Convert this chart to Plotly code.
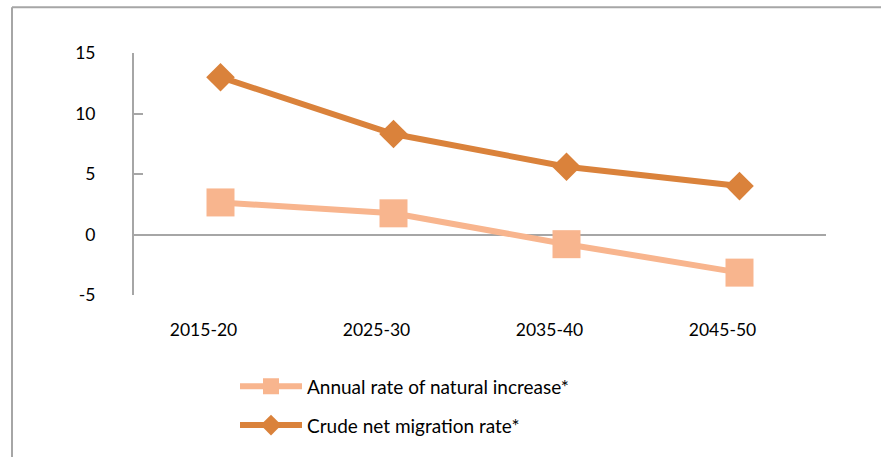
import plotly.graph_objects as go

periods = ["2015-20", "2025-30", "2035-40", "2045-50"]
natural_increase = [2.65, 1.75, -0.8, -3.15]
net_migration = [13.0, 8.3, 5.6, 4.0]
y_ticks = [-5, 0, 5, 10, 15]
y_tick_text = ["-5", "0", "5", "10", "15"]

FONT = "Lato"
GRAY = "#A6A6A6"
LIGHT = "#F8B58E"
DARK = "#DA823B"

fig = go.Figure()
fig.add_trace(go.Scatter(
    x=periods, y=natural_increase, mode="lines+markers",
    name="Annual rate of natural increase*",
    line={"color": LIGHT, "width": 6},
    marker={"symbol": "square", "size": 28, "color": LIGHT},
    legend="legend", showlegend=True,
))
fig.add_trace(go.Scatter(
    x=periods, y=net_migration, mode="lines+markers",
    name="Crude net migration rate*",
    line={"color": DARK, "width": 6},
    marker={"symbol": "diamond", "size": 22, "color": DARK},
    legend="legend2", showlegend=True,
))

# plot area in page pixels
left, right = 134, 826
top, bottom = 53, 302
pw, ph = right - left, bottom - top


def px(x):
    return (x - left) / pw


def py(y):
    return (bottom - y) / ph


legend_common = {
    "font": {"family": FONT, "size": 19, "color": "#000000"},
    "bgcolor": "rgba(0,0,0,0)",
    "itemwidth": 62,
    "xanchor": "left",
    "yanchor": "middle",
    "itemclick": False,
    "visible": True,
}

fig.update_layout(
    width=881, height=457,
    showlegend=True,
    margin={"l": left, "r": 881 - right, "t": top, "b": 457 - bottom},
    paper_bgcolor="white", plot_bgcolor="white",
    font={"family": FONT, "size": 17, "color": "#000000"},
    legend={**legend_common, "x": px(235), "y": py(396)},
    legend2={**legend_common, "x": px(235), "y": py(436)},
    xaxis={
        "type": "category", "range": [-0.5, 3.5],
        "showgrid": False, "showline": False, "zeroline": False,
        "ticks": "", "ticklabelstandoff": 22, "ticklabelshift": -17,
        "tickfont": {"family": FONT, "size": 17.5},
    },
    yaxis={
        "range": [-5, 15], "tickvals": y_ticks, "ticktext": y_tick_text,
        "showgrid": False, "showline": True, "linecolor": GRAY, "linewidth": 2,
        "zeroline": True, "zerolinecolor": GRAY, "zerolinewidth": 2,
        "ticks": "inside", "ticklen": 9, "tickcolor": GRAY, "tickwidth": 1.5,
        "ticklabelstandoff": 33,
        "tickfont": {"family": FONT, "size": 17.5},
    },
    shapes=[
        {"type": "line", "xref": "paper", "yref": "paper",
         "x0": px(12), "x1": px(881), "y0": py(6), "y1": py(6),
         "line": {"color": GRAY, "width": 2}},
        {"type": "line", "xref": "paper", "yref": "paper",
         "x0": px(12), "x1": px(12), "y0": py(6), "y1": py(470),
         "line": {"color": GRAY, "width": 2}},
    ],
)

# page has a default body margin; drop it so the figure sits at 0,0
fig.write_html(
    "out.html",
    config={"displayModeBar": False},
    post_script="document.body.style.margin='0';",
)
